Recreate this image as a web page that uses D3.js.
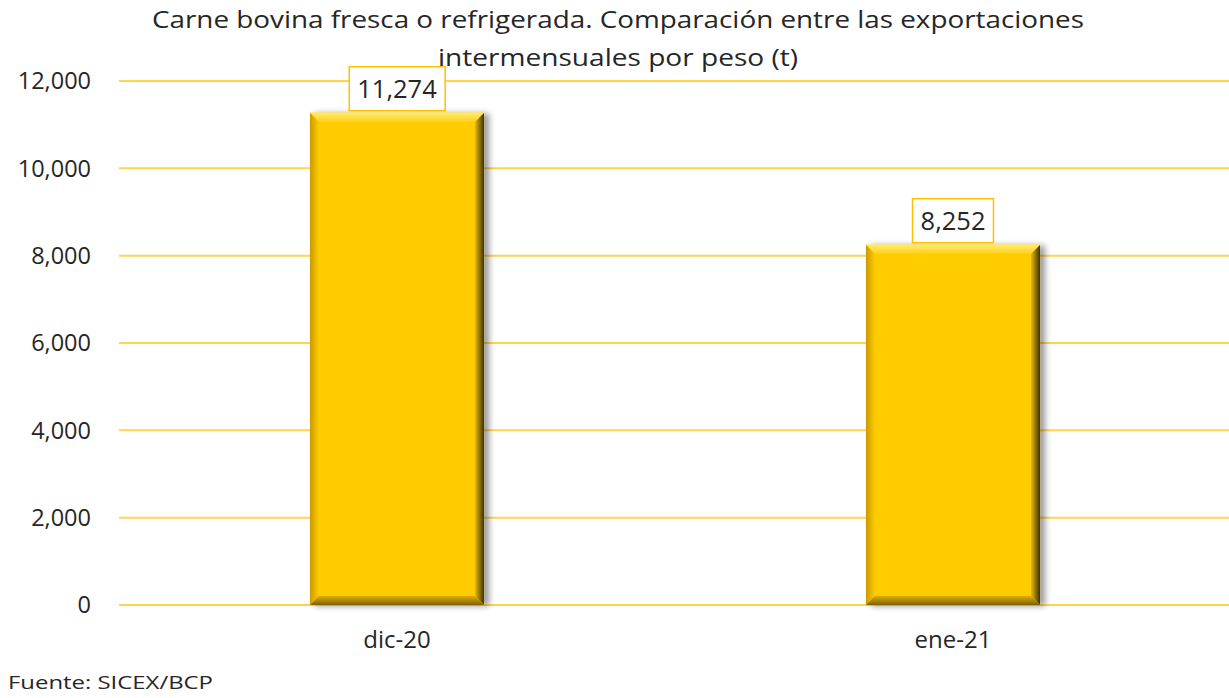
<!DOCTYPE html>
<html><head><meta charset="utf-8">
<script src="https://cdn.jsdelivr.net/npm/d3@7"></script>
<style>body{margin:0;background:#fff}svg{display:block}text{font-family:"Open Sans",sans-serif;fill:#262626}</style>
</head><body><svg id="c" width="1229" height="698"></svg>
<script>
const categories = ["dic-20", "ene-21"];
const values = [11274, 8252];
const yTicks = [0, 2000, 4000, 6000, 8000, 10000, 12000];
const titleLines = ["Carne bovina fresca o refrigerada. Comparación entre las exportaciones", "intermensuales por peso (t)"];
const source = "Fuente: SICEX/BCP";

const svg = d3.select("#c");
const fmt = d3.format(",");
const x = d3.scaleBand().domain(categories).range([119, 1231]).padding(0);
const y = d3.scaleLinear().domain([0, 12000]).range([605, 81]);
const barW = x.bandwidth() * 0.313;

const defs = svg.append("defs");
const f = defs.append("filter").attr("id", "sh").attr("x", "-20%").attr("y", "-20%").attr("width", "140%").attr("height", "140%");
f.append("feDropShadow").attr("dx", 5).attr("dy", 1).attr("stdDeviation", 3).attr("flood-color", "#000").attr("flood-opacity", 0.4);

const grads = {
  top: {x1: 0, y1: 0, x2: 0, y2: 1, outer: "#FFEB70", inner: "#FFD21A"},
  left: {x1: 0, y1: 0, x2: 1, y2: 0, outer: "#C99A00", inner: "#FFCC00"},
  right: {x1: 1, y1: 0, x2: 0, y2: 0, outer: "#3F3200", inner: "#E8B800"},
  bottom: {x1: 0, y1: 1, x2: 0, y2: 0, outer: "#7E6100", inner: "#E0AE00"}
};
Object.entries(grads).forEach(([k, g]) => {
  const lg = defs.append("linearGradient").attr("id", "g-" + k)
    .attr("x1", g.x1).attr("y1", g.y1).attr("x2", g.x2).attr("y2", g.y2);
  lg.append("stop").attr("offset", 0).attr("stop-color", g.outer);
  lg.append("stop").attr("offset", 1).attr("stop-color", g.inner);
});

// gridlines
svg.append("g").selectAll("line").data(yTicks).join("line")
  .attr("x1", 119).attr("x2", 1229).attr("y1", d => y(d)).attr("y2", d => y(d))
  .attr("stroke", "#FFD54F").attr("stroke-width", 2);

// y axis labels
svg.append("g").selectAll("text").data(yTicks).join("text")
  .attr("x", 91).attr("y", d => y(d)).attr("dy", "0.35em").attr("text-anchor", "end")
  .attr("font-size", 23.5).text(d => fmt(d));

// bars
const b = 9;
const bars = svg.append("g").selectAll("g").data(values).join("g");
bars.append("rect")
  .attr("x", (d, i) => x(categories[i]) + x.bandwidth() / 2 - barW / 2)
  .attr("y", d => y(d)).attr("width", barW).attr("height", d => y(0) - y(d))
  .attr("fill", "#FFCC00").attr("filter", "url(#sh)");
function bev(d, i, side) {
  const x0 = x(categories[i]) + x.bandwidth() / 2 - barW / 2, x1 = x0 + barW;
  const y0 = y(d), y1 = y(0);
  const p = {
    top: [[x0, y0], [x1, y0], [x1 - b, y0 + b], [x0 + b, y0 + b]],
    left: [[x0, y0], [x0 + b, y0 + b], [x0 + b, y1 - b], [x0, y1]],
    right: [[x1, y0], [x1, y1], [x1 - b, y1 - b], [x1 - b, y0 + b]],
    bottom: [[x0, y1], [x0 + b, y1 - b], [x1 - b, y1 - b], [x1, y1]]
  }[side];
  return "M" + p.map(q => q.join(",")).join("L") + "Z";
}
["left", "right", "bottom", "top"].forEach(s => {
  bars.append("path").attr("d", (d, i) => bev(d, i, s)).attr("fill", `url(#g-${s})`);
});

// data labels
const lab = svg.append("g").selectAll("g").data(values).join("g")
  .attr("transform", (d, i) => `translate(${x(categories[i]) + x.bandwidth() / 2},${y(d) - 24})`);
lab.each(function(d) {
  const g = d3.select(this);
  const t = g.append("text").attr("text-anchor", "middle").attr("dy", "0.35em").attr("font-size", 25.5).text(fmt(d));
  const bb = t.node().getBBox();
  g.insert("rect", "text").attr("x", bb.x - 8).attr("y", -22).attr("width", bb.width + 16).attr("height", 44)
    .attr("fill", "#fff").attr("stroke", "#FFC000").attr("stroke-width", 1.5);
});

// category labels
svg.append("g").selectAll("text").data(categories).join("text")
  .attr("x", d => x(d) + x.bandwidth() / 2).attr("y", 640).attr("dy", "0.35em").attr("text-anchor", "middle")
  .attr("font-size", 24).text(d => d);

// title
svg.append("g").selectAll("text").data(titleLines).join("text")
  .attr("x", 618).attr("y", (d, i) => 20 + i * 38).attr("dy", "0.35em").attr("text-anchor", "middle")
  .attr("font-size", 23).attr("textLength", (d, i) => i === 0 ? 932 : 360).attr("lengthAdjust", "spacingAndGlyphs").text(d => d);

svg.append("text").attr("x", 8).attr("y", 682).attr("dy", "0.35em").attr("font-size", 19)
  .attr("textLength", 205).attr("lengthAdjust", "spacingAndGlyphs").text(source);
</script></body></html>
